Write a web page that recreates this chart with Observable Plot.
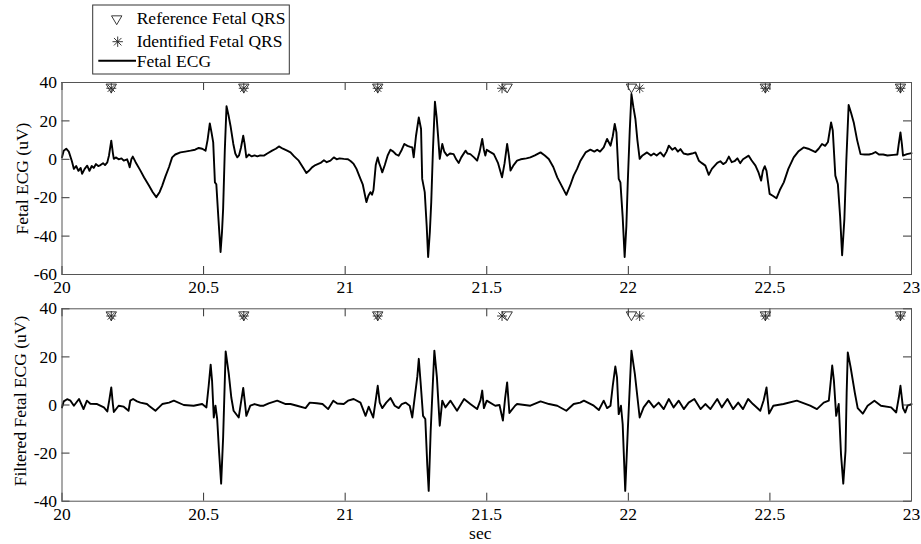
<!DOCTYPE html>
<html><head><meta charset="utf-8">
<script src="https://cdn.jsdelivr.net/npm/d3@7"></script>
<script src="https://cdn.jsdelivr.net/npm/@observablehq/plot@0.6"></script>
<style>
body{margin:0;background:#fff}
#chart{position:relative;width:921px;height:544px;font-family:"Liberation Serif","Times New Roman",serif;background:#fff}
#chart > svg{position:absolute;left:0}
</style></head><body><div id="chart"></div>
<script>
// ---- data ----
const topTime = [20.000,20.006,20.015,20.024,20.035,20.042,20.05,20.058,20.066,20.071,20.08,20.089,20.097,20.105,20.112,20.12,20.128,20.136,20.145,20.152,20.16,20.166,20.174,20.18,20.183,20.19,20.2,20.21,20.218,20.23,20.235,20.239,20.245,20.25,20.26,20.277,20.29,20.307,20.32,20.333,20.345,20.354,20.365,20.378,20.389,20.4,20.418,20.435,20.454,20.47,20.483,20.495,20.507,20.514,20.522,20.528,20.534,20.538,20.54,20.545,20.552,20.56,20.565,20.569,20.575,20.581,20.588,20.595,20.605,20.612,20.619,20.625,20.632,20.64,20.645,20.651,20.66,20.67,20.68,20.69,20.7,20.713,20.725,20.742,20.755,20.766,20.78,20.795,20.807,20.82,20.836,20.85,20.863,20.872,20.883,20.895,20.913,20.925,20.935,20.948,20.96,20.97,20.98,20.995,21.01,21.02,21.03,21.04,21.054,21.062,21.075,21.082,21.089,21.095,21.1,21.108,21.115,21.12,21.125,21.131,21.14,21.15,21.16,21.17,21.18,21.189,21.2,21.209,21.22,21.23,21.237,21.242,21.25,21.26,21.268,21.272,21.281,21.288,21.293,21.299,21.304,21.31,21.317,21.323,21.328,21.334,21.343,21.35,21.36,21.37,21.383,21.392,21.401,21.41,21.425,21.432,21.442,21.455,21.466,21.475,21.484,21.49,21.495,21.5,21.51,21.525,21.54,21.554,21.563,21.572,21.578,21.584,21.595,21.607,21.62,21.64,21.654,21.67,21.69,21.705,21.719,21.735,21.749,21.765,21.781,21.795,21.807,21.819,21.831,21.849,21.866,21.88,21.89,21.9,21.913,21.925,21.937,21.945,21.952,21.958,21.966,21.972,21.98,21.987,21.993,21.998,22.005,22.011,22.018,22.025,22.032,22.04,22.05,22.066,22.08,22.09,22.1,22.113,22.125,22.135,22.143,22.155,22.165,22.175,22.184,22.195,22.21,22.225,22.237,22.249,22.26,22.272,22.284,22.295,22.314,22.325,22.335,22.345,22.355,22.365,22.375,22.385,22.395,22.405,22.425,22.435,22.449,22.46,22.469,22.475,22.482,22.488,22.499,22.51,22.523,22.535,22.549,22.565,22.584,22.6,22.619,22.635,22.65,22.661,22.672,22.684,22.695,22.705,22.716,22.722,22.731,22.74,22.748,22.755,22.763,22.77,22.778,22.787,22.796,22.808,22.82,22.835,22.85,22.862,22.873,22.885,22.9,22.915,22.937,22.95,22.955,22.961,22.966,22.97,22.984,23.0];
const topValue = [1,4.5,5.5,4,-1,-5,-3.5,-6,-4.5,-7.6,-5,-3.3,-6,-3.5,-4.5,-2.5,-3.5,-3,-2,-3,-1.6,2,9.7,3,0.2,1,0,0.5,-0.7,0,-2,-4.2,0,1.4,-1.5,-5.9,-9.5,-13.7,-17,-19.7,-17,-13.7,-9,-4,1,2.5,3.6,4,4.5,5,5.9,5.5,4.5,10,18.7,14,8.8,-5,-12,-13,-30,-48.3,-38,-25.8,5,27.6,23,17.5,8,3,1,2,6,12.3,8,1,2.5,1.5,2,1.5,2,1.9,3,4.5,5.5,6.7,5.5,4.5,3.6,1.5,-0.7,-4,-7.1,-6,-4.2,-3,-1.9,-0.5,-1.5,-0.7,1,0,0.5,0.2,0,-1,-2.4,-5,-10.2,-13,-22.3,-19,-17.1,-18.5,-16,-3,1,-2,-4,-6.8,-3,2,5,4,2.5,1.9,5,8,7,6.5,6.2,1,12,21.8,15.8,-10.2,-17.1,-35,-50.9,-38,-22.3,5,30,22,12.3,0.2,8,4,1.9,3,2.7,0,-1.9,1,4.5,3,2.7,1,-0.7,4,10.6,5,1.9,5,4,2.7,-2,-9.4,-2,8,2,-5.9,-3,-0.7,0,0.5,1,2,3.6,2,0.2,-4,-9.4,-14,-18.5,-13.5,-8.5,-5,-0.7,3.6,5,4,5,4,6.2,10.6,7.1,12,18.4,14,-10.2,-12,-30,-50.9,-35,-12,15,34,27,21,10,0.2,2,3.6,2,3,2,3.6,1.5,4,7.1,5,6,4,5.3,3,2.5,3,3.6,-0.7,-2,-3.3,-8.1,-5,-1.9,-1,-2.5,-1.5,1.4,-1.5,-1,0.5,-2,0,1.9,-0.5,-3.3,-7,-11.1,-6,-3.6,-6,-18,-19,-20.3,-16,-12,-5,1,4,6.2,5.5,4.5,3.8,5.5,8,7,9,19.2,15,-8.5,-13,-30,-50,-31,0,28.3,24,19.2,10,2.7,2.5,2.5,3,3.8,2.5,2.5,2,2.3,2.5,8,14,8,1.9,2.7,3.2];

const botTime = [20.0,20.006,20.018,20.03,20.042,20.06,20.076,20.088,20.1,20.124,20.148,20.16,20.167,20.174,20.18,20.183,20.2,20.218,20.235,20.241,20.251,20.265,20.277,20.3,20.307,20.33,20.345,20.354,20.378,20.395,20.43,20.465,20.495,20.51,20.518,20.525,20.53,20.536,20.542,20.548,20.555,20.562,20.569,20.578,20.589,20.598,20.606,20.624,20.632,20.64,20.646,20.651,20.665,20.68,20.7,20.712,20.73,20.76,20.79,20.807,20.83,20.86,20.875,20.9,20.92,20.94,20.958,20.972,20.995,21.01,21.03,21.054,21.072,21.083,21.099,21.108,21.115,21.122,21.131,21.145,21.16,21.175,21.189,21.2,21.213,21.228,21.237,21.242,21.255,21.26,21.266,21.275,21.283,21.29,21.295,21.302,21.31,21.315,21.324,21.334,21.343,21.354,21.372,21.395,21.42,21.442,21.466,21.478,21.484,21.49,21.5,21.53,21.545,21.557,21.565,21.572,21.58,21.6,21.607,21.654,21.69,21.72,21.749,21.781,21.807,21.83,21.843,21.878,21.896,21.913,21.925,21.937,21.945,21.954,21.96,21.966,21.974,21.98,21.989,21.998,22.011,22.023,22.04,22.054,22.072,22.09,22.107,22.125,22.143,22.16,22.178,22.196,22.213,22.233,22.255,22.272,22.29,22.314,22.33,22.35,22.37,22.388,22.405,22.423,22.44,22.466,22.478,22.488,22.497,22.512,22.548,22.595,22.642,22.666,22.69,22.708,22.715,22.72,22.726,22.734,22.743,22.751,22.759,22.767,22.771,22.775,22.785,22.8,22.81,22.828,22.845,22.869,22.892,22.928,22.946,22.955,22.961,22.97,22.978,22.986,23.0];
const botValue = [-1,1.5,2.4,1.8,-0.3,2.5,-1.7,1.8,0.5,0.4,-1,-2.7,2,7.3,0,-2.9,-0.3,-0.7,-2.4,1.8,2.5,1.5,1,0.4,-0.3,-2.4,-0.7,0.4,1,1.8,0,-0.3,0.4,-1,8,16.8,10,-5.2,-0.3,-5.8,-20,-32.7,-13.5,22.3,12.9,3,-2.4,-5.2,1,7.1,1,-4.5,-0.3,0.4,-0.3,-0.3,0.7,1.8,0.4,0.4,-0.3,-1.3,1,0.7,0.4,-1.7,1.8,0.6,0.4,1.8,2.5,1,-4.5,-0.7,-5.2,2,8,1,-1.3,1,2.9,-0.3,-1.3,0.4,1,-0.3,-5.2,-0.3,12,19.2,10.1,-4.5,-5.8,-25,-35.7,-10.7,10,22.6,11.5,-8.6,1.8,-1,1.8,-2.4,2.5,0.4,-1.7,2,6,-1.3,1.8,-0.3,0,-6.5,3,9.4,-3.3,-0.3,0.4,-0.3,1.5,0.4,-0.3,-2.4,0.4,1,1.8,-0.3,-2.1,1.8,-1.3,-0.3,8,16,11.5,-3.8,-0.3,-7.9,-35.7,-10.7,22.6,12.9,-5.2,-1,1.8,-1,1,-1.7,2.5,-1,1.8,-1.7,1,2.5,-1.7,0.4,-1.7,2.5,-1,2.5,-1.7,1,-1.7,2.5,0.4,-2.4,2,7.3,-3.6,-0.3,0.4,1.8,-0.3,-1.7,1,1.8,10,16.4,10.1,-4.5,0.4,-20.4,-32.7,-19,5,21.9,15.7,5,-1.3,-3.6,-0.3,1.8,-0.3,-1,-3.1,3,8,-1.3,-3.1,-0.3,0.4];

const referenceQRS = [20.174,20.642,21.115,21.572,22.011,22.484,22.961];
const identifiedQRS = [20.174,20.642,21.115,21.554,22.040,22.484,22.961];
const markerLevel = 37;

const xTicks = [20,20.5,21,21.5,22,22.5,23];
const yTicksTop = [-60,-40,-20,0,20,40];
const yTicksBottom = [-40,-20,0,20,40];
const legendLabels = ["Reference Fetal QRS","Identified Fetal QRS","Fetal ECG"];
const yLabels = ["Fetal ECG (uV)","Filtered Fetal ECG (uV)"];
const xLabel = "sec";

// ---- symbols ----
const triDown = {draw(ctx, size){const r=Math.sqrt(size/Math.PI);ctx.moveTo(-r,-0.8*r);ctx.lineTo(r,-0.8*r);ctx.lineTo(0,0.9*r);ctx.closePath();}};
const star8 = {draw(ctx, size){const r=Math.sqrt(size/Math.PI);const d=r*0.72;
  ctx.moveTo(-r,0);ctx.lineTo(r,0);ctx.moveTo(0,-r);ctx.lineTo(0,r);
  ctx.moveTo(-d,-d);ctx.lineTo(d,d);ctx.moveTo(-d,d);ctx.lineTo(d,-d);}};

const W = 921, ML = 61.5, MR = 10, FS = 17.5;
const FONT = "Liberation Serif, Times New Roman, serif";

function panel({times, values, yDomain, yTicks, height, marginTop, marginBottom, yLabel, labelDx, labelDy, sec}) {
  const data = times.map((t, i) => ({t, v: values[i]}));
  const refs = referenceQRS.map(t => ({t, v: markerLevel}));
  const ids = identifiedQRS.map(t => ({t, v: markerLevel}));
  const fh = height - marginTop - marginBottom;
  const fw = W - ML - MR;
  const marks = [
    Plot.line(data, {x: "t", y: "v", stroke: "#000", strokeWidth: 1.9}),
    Plot.dot(refs, {x: "t", y: "v", symbol: triDown, r: 5.2, stroke: "#222", strokeWidth: 0.9, fill: "none"}),
    Plot.dot(ids, {x: "t", y: "v", symbol: star8, r: 5, stroke: "#222", strokeWidth: 0.9, fill: "none"}),
    Plot.tickX(xTicks, {x: d => d, insetBottom: fh - 8, stroke: "#333"}),
    Plot.tickX(xTicks, {x: d => d, insetTop: fh - 8, stroke: "#333"}),
    Plot.tickY(yTicks, {y: d => d, insetRight: fw - 8, stroke: "#333"}),
    Plot.tickY(yTicks, {y: d => d, insetLeft: fw - 8, stroke: "#333"}),
    Plot.frame({stroke: "#555"}),
    Plot.axisX({ticks: xTicks, tickSize: 0, tickPadding: 6, tickFormat: d => String(d), label: null, fontSize: FS}),
    Plot.axisY({ticks: yTicks, tickSize: 0, tickPadding: 5, tickFormat: d => String(d), label: null, fontSize: FS}),
    Plot.text([yLabel], {frameAnchor: "left", dx: labelDx, dy: labelDy, rotate: -90, textAnchor: "middle", lineAnchor: "middle", fontSize: FS, fill: "#000"})
  ];
  if (sec) marks.push(Plot.text([xLabel], {frameAnchor: "bottom", dy: 38, dx: -6.5, lineAnchor: "bottom", fontSize: FS, fill: "#000"}));
  return Plot.plot({
    width: W, height, marginLeft: ML, marginRight: MR, marginTop, marginBottom,
    style: {fontFamily: FONT, fontSize: FS + "px", background: "transparent", color: "#000", overflow: "visible"},
    x: {domain: [20, 23], label: null},
    y: {domain: yDomain, label: null},
    marks
  });
}

const chart = document.getElementById("chart");
const top1 = panel({times: topTime, values: topValue, yDomain: [-60, 40], yTicks: yTicksTop, height: 230, marginTop: 12, marginBottom: 26, yLabel: yLabels[0], labelDx: -39.8, labelDy: 0, sec: false});
top1.style.top = "70px";
chart.appendChild(top1);
const bot1 = panel({times: botTime, values: botValue, yDomain: [-40, 40], yTicks: yTicksBottom, height: 256, marginTop: 20.3, marginBottom: 43.3, yLabel: yLabels[1], labelDx: -41.5, labelDy: -4, sec: true});
bot1.style.top = "288px";
chart.appendChild(bot1);

// ---- legend ----
const lg = d3.select(chart).append("svg").attr("width", 300).attr("height", 78).style("top", "0px")
  .style("font-family", FONT).style("font-size", FS + "px");
lg.append("rect").attr("x", 92.7).attr("y", 5).attr("width", 196.6).attr("height", 69).attr("fill", "#fff").attr("stroke", "#333").attr("stroke-width", 1);
const symPath = (s) => { const p = d3.path(); s.draw(p, 5.2 * 5.2 * Math.PI); return p.toString(); };
lg.append("path").attr("d", symPath(triDown)).attr("transform", "translate(116.7,20)").attr("fill", "none").attr("stroke", "#222").attr("stroke-width", 0.9);
lg.append("path").attr("d", symPath(star8)).attr("transform", "translate(117.7,41.7)").attr("fill", "none").attr("stroke", "#222").attr("stroke-width", 0.9);
lg.append("line").attr("x1", 98.3).attr("x2", 136).attr("y1", 60.7).attr("y2", 60.7).attr("stroke", "#000").attr("stroke-width", 1.9);
const baselines = [24, 46.7, 66.7];
legendLabels.forEach((t, i) => lg.append("text").attr("x", 136.7).attr("y", baselines[i]).text(t).attr("fill", "#000"));
</script></body></html>
